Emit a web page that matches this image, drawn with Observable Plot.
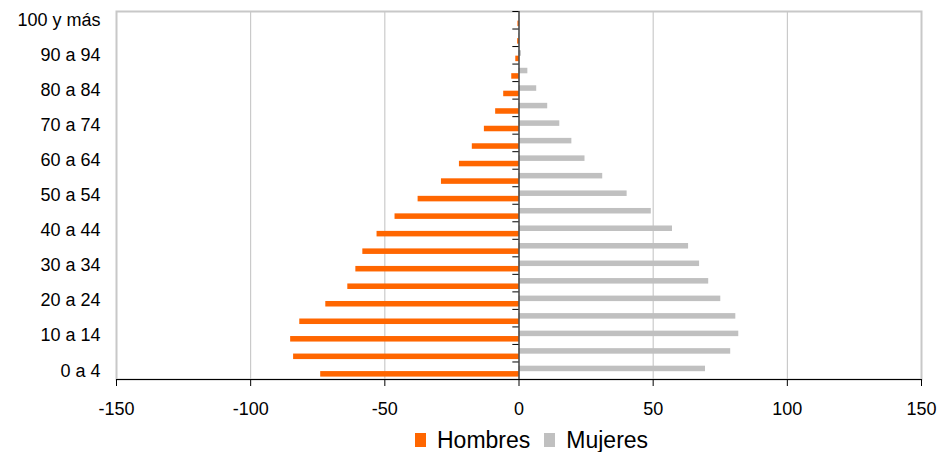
<!DOCTYPE html>
<html>
<head>
<meta charset="utf-8">
<script src="https://cdn.jsdelivr.net/npm/d3@7"></script>
<script src="https://cdn.jsdelivr.net/npm/@observablehq/plot@0.6"></script>
<style>
  body { margin: 0; background: #fff; font-family: "Liberation Sans", Arial, sans-serif; }
  #wrap { position: relative; width: 940px; height: 452px; overflow: hidden; }
  #legend { position: absolute; left: 415px; top: 429px; display: flex; align-items: center; font-size: 23px; line-height: 22px; color: #000; white-space: nowrap; }
  #legend .sw { display: inline-block; width: 11px; height: 14px; margin-right: 11px; }
  #legend .item { display: flex; align-items: center; margin-right: 14px; }
</style>
</head>
<body>
<div id="wrap"><div id="chart"></div><div id="legend"></div></div>
<script>
const ages = ["0 a 4","5 a 9","10 a 14","15 a 19","20 a 24","25 a 29","30 a 34","35 a 39","40 a 44","45 a 49","50 a 54","55 a 59","60 a 64","65 a 69","70 a 74","75 a 79","80 a 84","85 a 89","90 a 94","95 a 99","100 y más"];
const hombres = [-73.9,-84.0,-85.1,-81.7,-72.0,-63.8,-60.8,-58.2,-52.9,-46.2,-37.6,-28.9,-22.2,-17.4,-12.9,-8.7,-5.7,-2.7,-1.2,-0.5,-0.4];
const mujeres = [69.5,78.9,81.9,80.8,75.2,70.7,67.3,63.2,57.2,49.3,40.3,31.2,24.6,19.7,15.2,10.7,6.6,3.3,0.9,0.2,0.1];
const xTicks = [-150,-100,-50,0,50,100,150];
const yTickLabels = ages.filter((d, i) => i % 2 === 0);
const seriesNames = ["Hombres","Mujeres"];
const seriesColors = ["#FF6600","#C0C0C0"];

const dataH = ages.map((a, i) => ({age: a, value: hombres[i]}));
const dataM = ages.map((a, i) => ({age: a, value: mujeres[i]}));

const svgH = 422, plotTop = 11, plotBottom = 379;
const bandH = (plotBottom - plotTop) / ages.length;

const chart = Plot.plot({
  width: 940,
  height: svgH,
  marginLeft: 116,
  marginRight: 19,
  marginTop: plotTop,
  marginBottom: svgH - plotBottom,
  style: {fontFamily: "'Liberation Sans', Arial, sans-serif", fontSize: "18px", color: "#000", background: "#fff"},
  x: {domain: [-150, 150], label: null},
  y: {domain: ages.slice().reverse(), padding: 0, round: false, label: null},
  marks: [
    Plot.gridX(xTicks, {stroke: "#c0c0c0", strokeOpacity: 1, strokeWidth: 1}),
    Plot.frame({stroke: "#c8c8c8", strokeWidth: 2}),
    Plot.barX(dataH, {y: "age", x1: 0, x2: "value", fill: seriesColors[0], insetTop: 9.6, insetBottom: 2.4}),
    Plot.barX(dataM, {y: "age", x1: 0, x2: "value", fill: seriesColors[1], insetTop: 4.2, insetBottom: 7.8}),
    Plot.ruleX([0], {stroke: "#000", strokeWidth: 1}),
    Plot.ruleY(ages, {y: d => d, x1: -2.3, x2: 0, dy: bandH / 2, stroke: "#000", strokeWidth: 1}),
    Plot.ruleY([ages[ages.length - 1]], {y: d => d, x1: -2.3, x2: 0, dy: -bandH / 2, stroke: "#000", strokeWidth: 1}),
    Plot.frame({anchor: "bottom", stroke: "#000", strokeWidth: 1}),
    Plot.axisX(xTicks, {tickSize: 7, tickPadding: 16, tickFormat: d => String(d), fontSize: 18, stroke: "#000", fill: "#000", label: null}),
    Plot.axisY(yTickLabels, {tickSize: 0, tickPadding: 16, fontSize: 18, fill: "#000", label: null})
  ]
});
document.getElementById("chart").appendChild(chart);

const legend = document.getElementById("legend");
seriesNames.forEach((n, i) => {
  const it = document.createElement("span");
  it.className = "item";
  const sw = document.createElement("span");
  sw.className = "sw";
  sw.style.background = seriesColors[i];
  it.appendChild(sw);
  it.appendChild(document.createTextNode(n));
  legend.appendChild(it);
});
</script>
</body>
</html>
